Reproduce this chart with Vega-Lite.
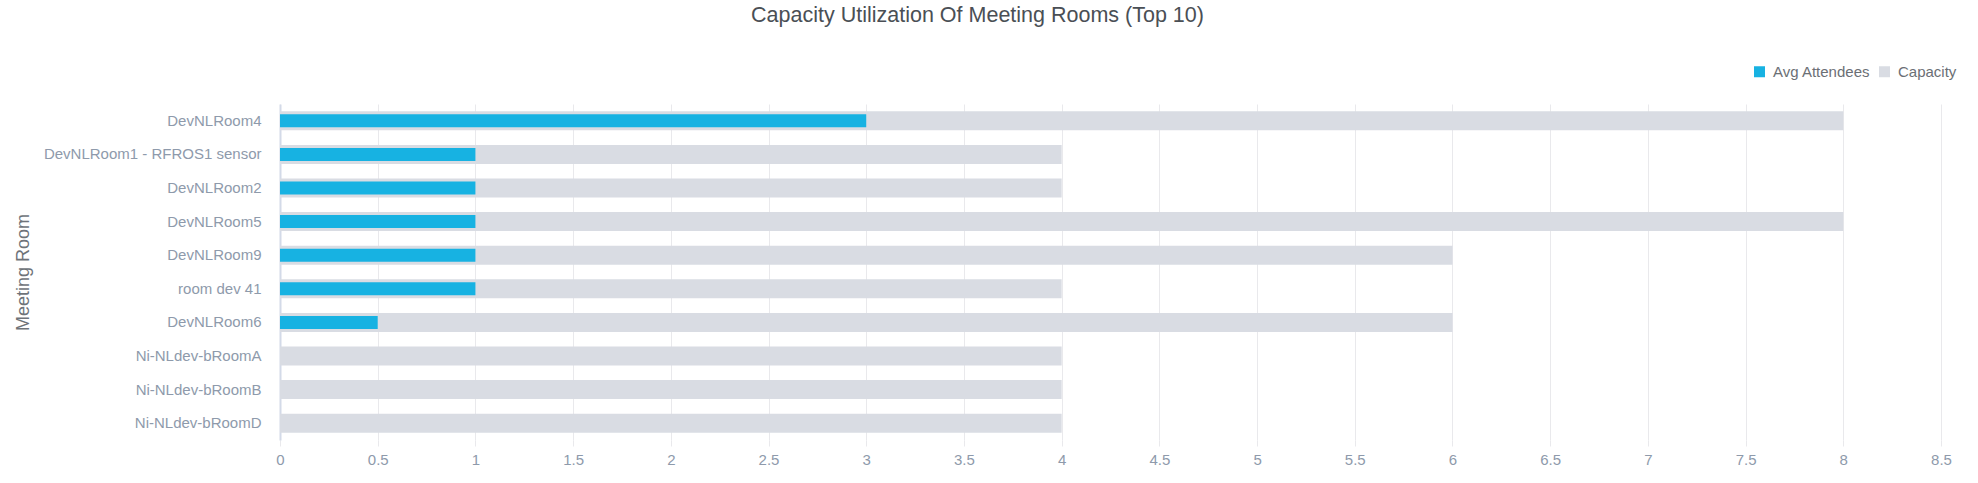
{
  "$schema": "https://vega.github.io/schema/vega-lite/v6.json",
  "autosize": {"type": "none"},
  "padding": {"left": 280, "top": 104, "right": 37, "bottom": 43},
  "width": 1661,
  "height": 336,
  "background": "white",
  "view": {"stroke": null},
  "title": {
    "text": "Capacity Utilization Of Meeting Rooms (Top 10)",
    "anchor": "middle",
    "frame": "group",
    "dx": -133,
    "offset": 21,
    "baseline": "alphabetic",
    "font": "Liberation Sans",
    "fontSize": 21.5,
    "fontWeight": "normal",
    "color": "#4a4f55"
  },
  "data": {
    "values": [
      {"room": "DevNLRoom4", "avg": 3, "capacity": 8},
      {"room": "DevNLRoom1 - RFROS1 sensor", "avg": 1, "capacity": 4},
      {"room": "DevNLRoom2", "avg": 1, "capacity": 4},
      {"room": "DevNLRoom5", "avg": 1, "capacity": 8},
      {"room": "DevNLRoom9", "avg": 1, "capacity": 6},
      {"room": "room dev 41", "avg": 1, "capacity": 4},
      {"room": "DevNLRoom6", "avg": 0.5, "capacity": 6},
      {"room": "Ni-NLdev-bRoomA", "avg": 0, "capacity": 4},
      {"room": "Ni-NLdev-bRoomB", "avg": 0, "capacity": 4},
      {"room": "Ni-NLdev-bRoomD", "avg": 0, "capacity": 4}
    ]
  },
  "encoding": {
    "y": {
      "field": "room",
      "type": "nominal",
      "sort": null,
      "scale": {"paddingInner": 0.43, "paddingOuter": 0.215},
      "axis": {
        "title": "Meeting Room",
        "titleFont": "Liberation Sans",
        "titleFontSize": 18,
        "titleFontWeight": "normal",
        "titleColor": "#6e7379",
        "titleAngle": 270,
        "titleAlign": "center",
        "titleBaseline": "middle",
        "titleX": -257,
        "titleY": 168,
        "labelFont": "Liberation Sans",
        "labelFontSize": 15,
        "labelColor": "#8e9aab",
        "labelPadding": 19,
        "labelLimit": 400,
        "ticks": false,
        "domain": true,
        "domainColor": "#d3dae8",
        "domainWidth": 2,
        "grid": false
      }
    }
  },
  "layer": [
    {
      "mark": {"type": "bar", "size": 19},
      "encoding": {
        "x": {
          "field": "capacity",
          "type": "quantitative",
          "scale": {"domain": [0, 8.5], "nice": false, "zero": true},
          "axis": {
            "title": null,
            "values": [0, 0.5, 1, 1.5, 2, 2.5, 3, 3.5, 4, 4.5, 5, 5.5, 6, 6.5, 7, 7.5, 8, 8.5],
            "format": "~g",
            "labelFont": "Liberation Sans",
            "labelFontSize": 15,
            "labelColor": "#8e9aab",
            "labelPadding": 6,
            "labelFlush": false,
            "ticks": true,
            "tickSize": 6,
            "tickColor": "#e9e9ec",
            "domain": false,
            "grid": true,
            "gridColor": "#e9e9ec",
            "gridWidth": 1
          }
        },
        "color": {
          "datum": "Capacity",
          "type": "nominal",
          "scale": {"domain": ["Avg Attendees", "Capacity"], "range": ["#17b2e2", "#d9dce3"]},
          "legend": {
            "title": null,
            "orient": "none",
            "legendX": 1472,
            "legendY": -40,
            "direction": "horizontal",
            "symbolType": "square",
            "symbolSize": 121,
            "symbolStrokeWidth": 0,
            "labelFont": "Liberation Sans",
            "labelFontSize": 15,
            "labelColor": "#6b6f75",
            "labelOffset": 6,
            "columnPadding": 6
          }
        }
      }
    },
    {
      "mark": {"type": "bar", "size": 13},
      "encoding": {
        "x": {"field": "avg", "type": "quantitative"},
        "color": {"datum": "Avg Attendees", "type": "nominal"}
      }
    }
  ]
}
